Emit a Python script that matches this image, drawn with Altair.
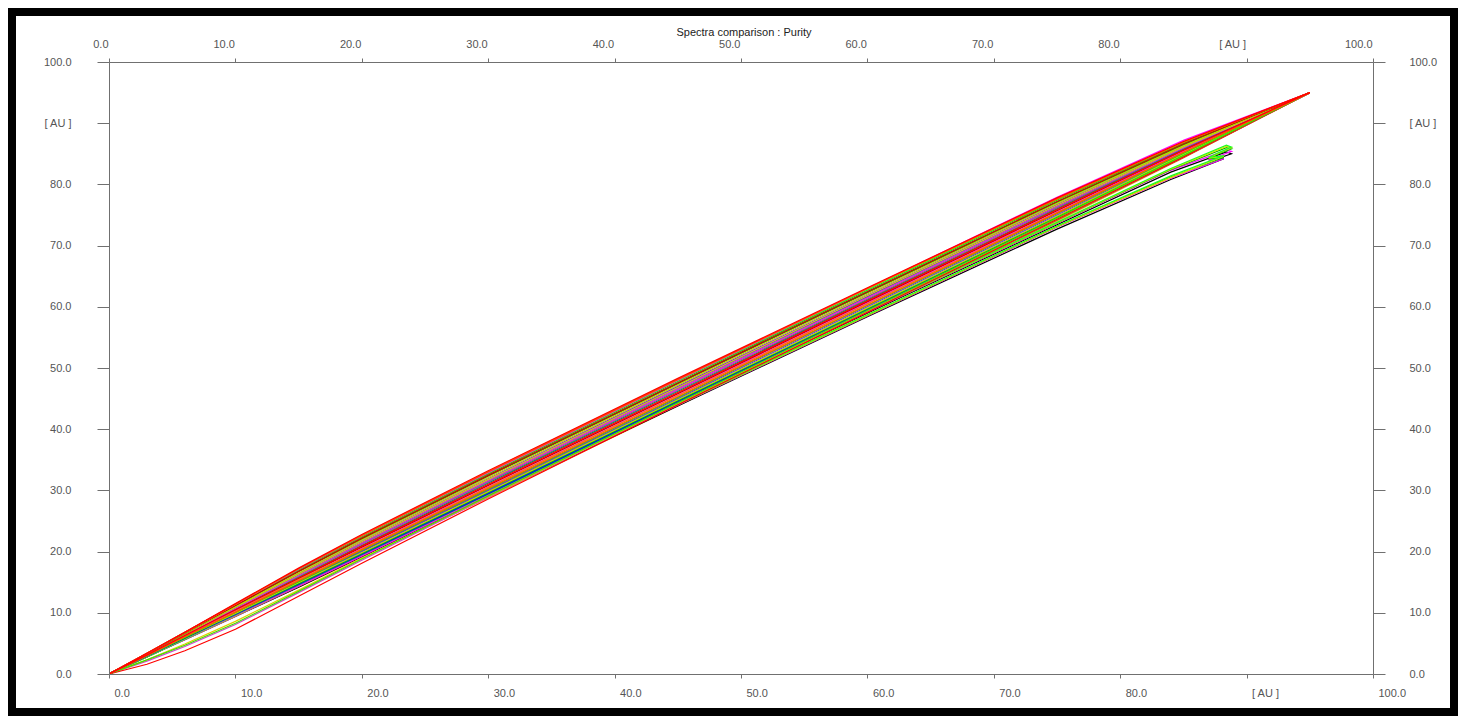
import altair as alt
import pandas as pd

TITLE = "Spectra comparison : Purity"
TICKS = [0, 10, 20, 30, 40, 50, 60, 70, 80, 90, 100]

# x positions of a full loop (up branch to the apex, then back to the origin)
X_LOOP = [0, 3, 6, 10, 15, 20, 30, 45, 60, 75, 85, 95, 85, 75, 60, 45, 30, 20, 15, 10, 6, 3, 0]
# x positions of the loops that stop short of the apex and curl near (88, 85)
X_HOOK = [0, 3, 6, 10, 15, 20, 30, 45, 60, 75, 84, 88.4, 88.8, 87.8, 87.0, 88.2, 84, 75, 60, 45, 30, 20, 15, 10, 6, 3, 0]

S01 = [0, 3.4, 6.8, 11.5, 17.3, 22.8, 33.2, 48.3, 63.1, 77.8, 87.0, 95.0, 85.6, 75.9, 61.0, 46.0, 31.0, 20.9, 15.7, 10.5, 6.3, 3.1, 0]
S02 = [0, 3.4, 6.8, 11.4, 17.2, 22.7, 33.1, 48.2, 63.0, 77.7, 86.9, 95.0, 85.3, 75.4, 60.5, 45.5, 30.5, 20.4, 15.4, 10.2, 6.1, 3.1, 0]
S03 = [0, 3.3, 6.7, 11.3, 17.0, 22.4, 32.7, 47.8, 62.7, 77.4, 86.7, 95.0, 85.1, 75.2, 60.2, 45.2, 30.2, 20.2, 15.1, 10.1, 6.0, 3.0, 0]
S04 = [0, 3.3, 6.6, 11.1, 16.8, 22.1, 32.4, 47.5, 62.4, 77.1, 86.5, 95.0, 84.8, 74.7, 59.7, 44.7, 29.7, 19.7, 14.8, 9.9, 5.9, 3.0, 0]
S05 = [0, 3.2, 6.5, 10.8, 16.3, 21.5, 31.8, 46.8, 61.7, 76.5, 86.1, 95.0, 84.7, 74.6, 59.5, 44.5, 29.5, 19.6, 14.7, 9.8, 5.9, 2.9, 0]
S06 = [0, 3.2, 6.4, 10.7, 16.1, 21.3, 31.5, 46.5, 61.4, 76.3, 85.9, 95.0, 84.5, 74.3, 59.2, 44.2, 29.2, 19.3, 14.4, 9.6, 5.8, 2.9, 0]
S07 = [0, 3.2, 6.5, 10.9, 16.4, 21.7, 31.9, 47.0, 61.9, 76.7, 86.2, 95.0, 85.0, 75.0, 60.0, 45.0, 30.0, 20.0, 15.0, 10.0, 6.0, 3.0, 0]
S08 = [0, 3.1, 6.3, 10.5, 15.7, 20.9, 31.0, 46.0, 61.0, 75.9, 85.6, 95.0, 84.3, 74.0, 58.9, 43.8, 28.8, 19.0, 14.2, 9.5, 5.7, 2.9, 0]
S09 = [0, 3.3, 6.7, 11.2, 16.8, 22.2, 32.5, 47.6, 62.5, 77.2, 86.6, 95.0, 85.5, 75.7, 60.8, 45.8, 30.8, 20.7, 15.6, 10.4, 6.2, 3.1, 0]
S10 = [0, 3.3, 6.6, 11.0, 16.5, 21.9, 32.1, 47.2, 62.1, 76.9, 86.3, 95.0, 84.9, 74.8, 59.8, 44.8, 29.8, 19.8, 14.9, 9.9, 6.0, 3.0, 0]
S11 = [0, 3.1, 6.3, 10.5, 15.8, 21.0, 31.2, 46.2, 61.1, 76.0, 85.7, 95.0, 84.6, 74.5, 59.4, 44.4, 29.4, 19.5, 14.6, 9.7, 5.9, 2.9, 0]
S12 = [0, 3.4, 6.8, 11.4, 17.1, 22.6, 32.9, 48.0, 63.0, 77.9, 87.2, 95.0, 85.4, 75.5, 60.6, 45.6, 30.6, 20.5, 15.4, 10.3, 6.2, 3.1, 0]
S13 = [0, 3.1, 6.2, 10.4, 15.6, 20.7, 30.8, 45.8, 60.8, 75.7, 85.5, 95.0, 84.4, 74.2, 59.1, 44.0, 29.0, 19.2, 14.3, 9.6, 5.8, 2.9, 0]
S14 = [0, 3.3, 6.6, 11.1, 16.7, 22.0, 32.3, 47.4, 62.3, 77.0, 86.4, 95.0, 84.5, 74.3, 59.1, 44.0, 28.6, 18.1, 12.7, 7.3, 3.8, 1.6, 0]
S15 = [0, 3.2, 6.4, 10.7, 16.1, 21.4, 31.6, 46.6, 61.5, 76.4, 86.0, 95.0, 84.6, 74.4, 59.2, 44.1, 28.9, 18.6, 13.3, 8.1, 4.5, 2.1, 0]
S16 = [0, 3.4, 6.8, 11.4, 17.1, 22.6, 32.9, 48.0, 62.9, 77.6, 86.8, 95.0, 84.7, 74.5, 59.4, 44.3, 29.1, 18.8, 13.5, 8.3, 4.7, 2.3, 0]
S17 = [0, 3.4, 6.8, 11.4, 17.2, 22.6, 33.0, 48.1, 63.0, 77.6, 86.9, 95.0, 85.2, 75.3, 60.3, 45.3, 30.3, 20.3, 15.2, 10.1, 6.1, 3.0, 0]
S18 = [0, 3.2, 6.4, 10.6, 16.0, 21.2, 31.4, 46.4, 61.3, 76.2, 85.8, 95.0, 84.5, 74.2, 59.1, 44.1, 29.1, 19.2, 14.4, 9.6, 5.8, 2.9, 0]
S19 = [0, 3.2, 6.4, 10.8, 16.2, 21.4, 31.6, 46.7, 61.6, 76.4, 86.0, 95.0, 84.8, 74.7, 59.6, 44.6, 29.6, 19.7, 14.7, 9.8, 5.9, 3.0, 0]
S20 = [0, 3.2, 6.5, 10.9, 16.3, 21.6, 31.8, 46.8, 61.8, 76.6, 86.1, 95.0, 84.6, 74.4, 59.3, 44.2, 29.0, 18.9, 13.7, 8.6, 4.9, 2.3, 0]

H01 = [0, 3.1, 6.2, 10.3, 15.4, 20.4, 30.3, 44.8, 59.3, 73.8, 82.6, 86.4, 86.1, 85.2, 84.4, 84.7, 81.4, 73.2, 58.7, 44.1, 29.4, 19.5, 14.5, 9.6, 5.7, 2.8, 0]
H02 = [0, 3.1, 6.2, 10.2, 15.3, 20.3, 30.2, 44.7, 59.2, 73.7, 82.4, 86.0, 85.8, 85.0, 84.2, 84.4, 81.2, 73.1, 58.6, 44.0, 29.3, 19.4, 14.4, 9.5, 5.7, 2.8, 0]
H03 = [0, 3.1, 6.1, 10.2, 15.2, 20.2, 30.1, 44.6, 59.1, 73.6, 82.3, 85.6, 85.4, 84.6, 84.0, 84.2, 81.0, 73.0, 58.5, 43.9, 29.2, 19.3, 14.3, 9.4, 5.6, 2.8, 0]
H04 = [0, 3.0, 6.1, 10.1, 15.1, 20.1, 30.0, 44.5, 59.0, 73.4, 82.0, 85.3, 85.0, 84.3, 84.0, 84.2, 80.8, 72.7, 58.4, 43.8, 29.1, 19.2, 14.2, 9.4, 5.6, 2.8, 0]
H05 = [0, 3.1, 6.2, 10.3, 15.3, 20.3, 30.2, 44.7, 59.2, 73.7, 82.5, 86.2, 86.0, 85.1, 84.3, 84.6, 81.1, 73.1, 58.6, 44.0, 29.3, 19.4, 14.4, 9.5, 5.7, 2.8, 0]

SERIES = [
    ("s08", S08, "#f0a830", "loop"), ("s13", S13, "#a05000", "loop"), ("s18", S18, "#909000", "loop"),
    ("h04", H04, "#000000", "hook"), ("h03", H03, "#ff00ff", "hook"), ("h02", H02, "#00b000", "hook"),
    ("h05", H05, "#e0e000", "hook"), ("h01", H01, "#20ff20", "hook"),
    ("s06", S06, "#ff00ff", "loop"), ("s11", S11, "#008080", "loop"), ("s05", S05, "#0000ff", "loop"),
    ("s19", S19, "#0040c0", "loop"), ("s07", S07, "#8000ff", "loop"), ("s15", S15, "#d040d0", "loop"),
    ("s20", S20, "#e0d000", "loop"),
    ("s14", S14, "#ff0000", "loop"), ("s04", S04, "#00b000", "loop"), ("s10", S10, "#b0e000", "loop"),
    ("s16", S16, "#40e000", "loop"), ("s03", S03, "#00ff00", "loop"), ("s09", S09, "#cc0000", "loop"),
    ("s12", S12, "#ff00ff", "loop"), ("s02", S02, "#ff8000", "loop"), ("s17", S17, "#ff5000", "loop"),
    ("s01", S01, "#ff0000", "loop"),
]

rows = []
for name, ys, col, kind in SERIES:
    xs = X_LOOP if kind == "loop" else X_HOOK
    for i, (xv, yv) in enumerate(zip(xs, ys)):
        rows.append({"series": name, "i": i, "x": xv, "y": yv})
df = pd.DataFrame(rows)

names = [s[0] for s in SERIES]
colors = [s[2] for s in SERIES]

FONT = "Liberation Sans"
LBL = "#555555"
AXC = "#707070"
label_expr = "datum.value == 90 ? '[ AU ]' : format(datum.value, '.1f')"

xscale = alt.Scale(domain=[0, 100], nice=False, zero=False)
yscale = alt.Scale(domain=[0, 100], nice=False, zero=False)

common = dict(values=TICKS, grid=False, title=None, labelExpr=label_expr, labelFont=FONT,
              labelFontSize=11, labelColor=LBL, domainColor=AXC, tickColor=AXC, zindex=1,
              labelFlush=False, labelOverlap=False)

lines = alt.Chart(df).mark_line(strokeWidth=1.2, clip=True).encode(
    x=alt.X("x:Q", scale=xscale, axis=alt.Axis(orient="bottom", tickSize=4, labelAlign="left",
                                               labelOffset=5, labelPadding=9, **common)),
    y=alt.Y("y:Q", scale=yscale, axis=alt.Axis(orient="left", tickSize=12, labelPadding=26,
                                               labelBaseline="middle", **common)),
    color=alt.Color("series:N", scale=alt.Scale(domain=names, range=colors), legend=None),
    detail="series:N",
    order="i:Q",
)

axes2 = alt.Chart(pd.DataFrame({"x": [0, 100], "y": [0, 100]})).mark_point(opacity=0).encode(
    x=alt.X("x:Q", scale=xscale, axis=alt.Axis(orient="top", tickSize=4, labelAlign="right",
                                               labelOffset=-1, labelPadding=9, **common)),
    y=alt.Y("y:Q", scale=yscale, axis=alt.Axis(orient="right", tickSize=12, labelPadding=24,
                                               labelAlign="left", labelBaseline="middle", **common)),
)

title = alt.Chart(pd.DataFrame({"t": [TITLE]})).mark_text(
    font=FONT, fontSize=11, color="#222222", align="center", baseline="alphabetic"
).encode(text="t:N", x=alt.value(635), y=alt.value(-26))

frame = alt.Chart(pd.DataFrame({"a": [0]})).mark_rect(
    fillOpacity=0, stroke="black", strokeWidth=8
).encode(x=alt.value(-97), x2=alt.value(1345), y=alt.value(-50), y2=alt.value(650))

chart = alt.layer(lines, axes2, title, frame).resolve_axis(x="independent", y="independent").properties(
    width=1264, height=612,
    padding={"left": 101, "top": 54, "right": 85, "bottom": 42},
    autosize=alt.AutoSizeParams(type="none"),
).configure_view(stroke=None).configure(background="white")

chart.save("out.html", embed_options={"renderer": "svg", "actions": False})
